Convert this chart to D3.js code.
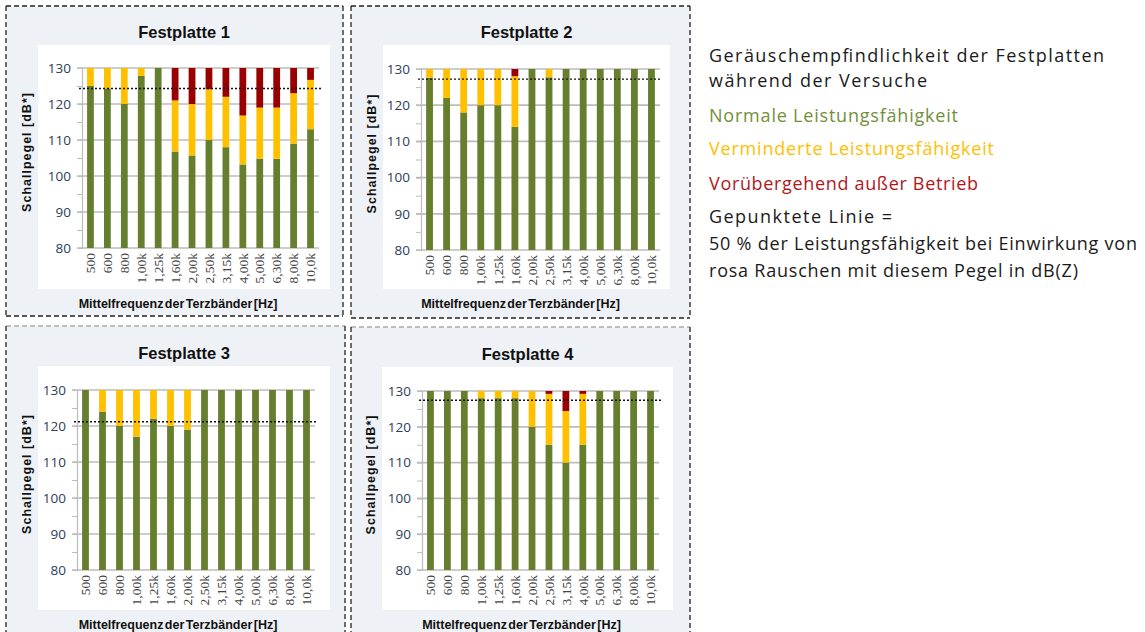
<!DOCTYPE html>
<html>
<head>
<meta charset="utf-8">
<script src="https://cdn.jsdelivr.net/npm/d3@7"></script>
<style>
  body { margin: 0; background: #fff; }
  svg { display: block; }
</style>
</head>
<body>
<svg id="chart" width="1145" height="632"></svg>
<script>
// Third-octave band centre frequencies (x categories)
const bands = ["500", "600", "800", "1,00k", "1,25k", "1,60k", "2,00k", "2,50k",
               "3,15k", "4,00k", "5,00k", "6,30k", "8,00k", "10,0k"];
const yTicks = [80, 90, 100, 110, 120, 130];

// Upper level of "normal" performance (green) per band, dB
const normal1 = [125, 124.3, 120, 127.8, 130, 106.8, 105.7, 110, 108, 103.2, 104.8, 104.8, 109, 113];
const normal2 = [127.6, 122, 118, 120, 120, 114, 130, 127.7, 130, 130, 130, 130, 130, 130];
const normal3 = [130, 124, 120, 117, 122, 120, 119, 130, 130, 130, 130, 130, 130, 130];
const normal4 = [130, 130, 130, 128, 128, 128, 120, 115, 110, 115, 130, 130, 130, 130];

// Upper level of "reduced" performance (yellow); above it up to 130 = out of service (red)
const reduced1 = [130, 130, 130, 130, 130, 121, 120, 124.1, 122, 116.8, 119, 119, 123, 126.7];
const reduced2 = [130, 130, 130, 130, 130, 128, 130, 130, 130, 130, 130, 130, 130, 130];
const reduced3 = [130, 130, 130, 130, 130, 130, 130, 130, 130, 130, 130, 130, 130, 130];
const reduced4 = [130, 130, 130, 130, 130, 130, 130, 129.2, 124.4, 129.2, 130, 130, 130, 130];

// Dotted line: 50 % performance with pink noise, dB(Z)
const halfLevel = [124.3, 127.2, 121.2, 127.4];

const titles = ["Festplatte 1", "Festplatte 2", "Festplatte 3", "Festplatte 4"];

const legendLines = [
  { text: "Geräuschempfindlichkeit der Festplatten", color: "#1a1a1a" },
  { text: "während der Versuche", color: "#1a1a1a" },
  { text: "Normale Leistungsfähigkeit", color: "#71903a" },
  { text: "Verminderte Leistungsfähigkeit", color: "#ffc000" },
  { text: "Vorübergehend außer Betrieb", color: "#b3161b" },
  { text: "Gepunktete Linie =", color: "#1a1a1a" },
  { text: "50 % der Leistungsfähigkeit bei Einwirkung von", color: "#1a1a1a" },
  { text: "rosa Rauschen mit diesem Pegel in dB(Z)", color: "#1a1a1a" }
];

const colors = { normal: "#667f2e", reduced: "#ffc000", out: "#990000" };

// Panel geometry (box, white card, plot area as [x0, y0, x1, y1])
const frames = [
  { box: [6, 6, 343, 316], card: [38, 45, 330, 289], plot: [82, 68, 319, 248], topDash: "#222" },
  { box: [351, 6, 690, 318], card: [383, 45, 670, 289], plot: [421, 69, 660, 250], topDash: "#222" },
  { box: [6, 326, 345, 650], card: [38, 366, 330, 610], plot: [77, 390, 315, 570], topDash: "#aaa" },
  { box: [351, 327, 690, 650], card: [382, 367, 673, 610], plot: [422, 391, 659, 570], topDash: "#aaa" }
];

const normals = [normal1, normal2, normal3, normal4];
const reduceds = [reduced1, reduced2, reduced3, reduced4];

const svg = d3.select("#chart");

frames.forEach((f, i) => {
  const g = svg.append("g");
  const [bx0, by0, bx1, by1] = f.box;

  // panel background + dashed frame
  g.append("rect")
    .attr("x", bx0).attr("y", by0)
    .attr("width", bx1 - bx0).attr("height", by1 - by0)
    .attr("fill", "#eef2f6");
  const edges = [
    [bx0, by0, bx1, by0, f.topDash],
    [bx0, by0, bx0, by1, "#222"],
    [bx1, by0, bx1, by1, "#222"],
    [bx0, by1, bx1, by1, "#222"]
  ];
  g.selectAll(".edge").data(edges).join("line")
    .attr("x1", d => d[0]).attr("y1", d => d[1])
    .attr("x2", d => d[2]).attr("y2", d => d[3])
    .attr("stroke", d => d[4])
    .attr("stroke-width", 1.3)
    .attr("stroke-dasharray", "5,3");

  // white chart card
  g.append("rect")
    .attr("x", f.card[0]).attr("y", f.card[1])
    .attr("width", f.card[2] - f.card[0]).attr("height", f.card[3] - f.card[1])
    .attr("fill", "#fff");

  const [px0, py0, px1, py1] = f.plot;
  const x = d3.scaleBand().domain(bands).range([px0, px1])
    .paddingInner(0.6).paddingOuter(0.3);
  const y = d3.scaleLinear().domain([80, 130]).range([py1, py0]);

  // gridlines
  g.selectAll(".grid").data(yTicks).join("line")
    .attr("x1", px0 - 5).attr("x2", px1)
    .attr("y1", d => y(d)).attr("y2", d => y(d))
    .attr("stroke", "#bdbdbd").attr("stroke-width", 1.7);

  // y axis with minor ticks every 5 dB
  const yAxis = g.append("g")
    .attr("transform", `translate(${px0},0)`)
    .call(d3.axisLeft(y).tickValues(d3.range(80, 131, 5)).tickSize(5)
      .tickFormat(d => d % 10 ? "" : d));
  yAxis.select(".domain").attr("stroke", "#bdbdbd").attr("stroke-width", 1.2);
  yAxis.selectAll(".tick line").attr("stroke", "#bdbdbd");
  yAxis.selectAll(".tick text")
    .attr("x", -11)
    .attr("fill", "#2c3e5a")
    .style("font", "13.5px 'Open Sans', sans-serif");

  // stacked bars
  const segs = [];
  bands.forEach((b, k) => {
    const n = normals[i][k], r = reduceds[i][k];
    segs.push({ b, lo: 80, hi: n, c: colors.normal });
    if (r > n) segs.push({ b, lo: n, hi: r, c: colors.reduced });
    if (130 > r) segs.push({ b, lo: r, hi: 130, c: colors.out });
  });
  g.selectAll(".bar").data(segs).join("rect")
    .attr("x", d => x(d.b))
    .attr("width", x.bandwidth())
    .attr("y", d => y(d.hi))
    .attr("height", d => y(d.lo) - y(d.hi))
    .attr("fill", d => d.c);

  // dotted reference line
  g.append("line")
    .attr("x1", px0 - 3).attr("x2", px1 + 2)
    .attr("y1", y(halfLevel[i])).attr("y2", y(halfLevel[i]))
    .attr("stroke", "#111").attr("stroke-width", 1.4)
    .attr("stroke-dasharray", "2,2");

  // x tick labels, rotated
  g.selectAll(".xl").data(bands).join("text")
    .attr("transform", d => `translate(${x(d) + x.bandwidth() / 2},${py1 + 5}) rotate(-90)`)
    .attr("text-anchor", "end")
    .attr("dy", "0.35em")
    .attr("fill", "#444")
    .style("font", "13.5px 'Liberation Serif', serif")
    .text(d => d);

  // titles
  const cx = (f.card[0] + f.card[2]) / 2;
  g.append("text")
    .attr("x", cx).attr("y", f.card[1] - 7)
    .attr("text-anchor", "middle")
    .style("font", "bold 16.5px 'Liberation Sans', sans-serif")
    .attr("fill", "#111")
    .text(titles[i]);

  g.append("text")
    .attr("transform", `translate(${f.card[0] - 11},${(py0 + py1) / 2 - 6}) rotate(-90)`)
    .attr("text-anchor", "middle")
    .attr("dy", "0.35em")
    .style("font", "bold 12.5px 'Liberation Sans', sans-serif")
    .style("letter-spacing", "1px")
    .attr("fill", "#111")
    .text("Schallpegel [dB*]");

  g.append("text")
    .attr("x", cx - 6).attr("y", f.card[3] + 19)
    .attr("text-anchor", "middle")
    .style("font", "bold 12.5px 'Liberation Sans', sans-serif")
    .style("word-spacing", "-2px")
    .attr("fill", "#111")
    .text("Mittelfrequenz der Terzbänder [Hz]");
});

// legend / explanation text on the right; each line spread to its width in the reference
const legendY = [62, 87, 122, 155, 190, 223, 250, 277];
const legendW = [395, 218, 249, 285, 269, 183, 428, 369];
svg.append("g").selectAll("text").data(legendLines).join("text")
  .attr("x", 709)
  .attr("y", (d, k) => legendY[k])
  .attr("fill", d => d.color)
  .attr("textLength", (d, k) => legendW[k])
  .attr("lengthAdjust", "spacing")
  .style("font", "18px 'Open Sans', sans-serif")
  .text(d => d.text);
</script>
</body>
</html>
